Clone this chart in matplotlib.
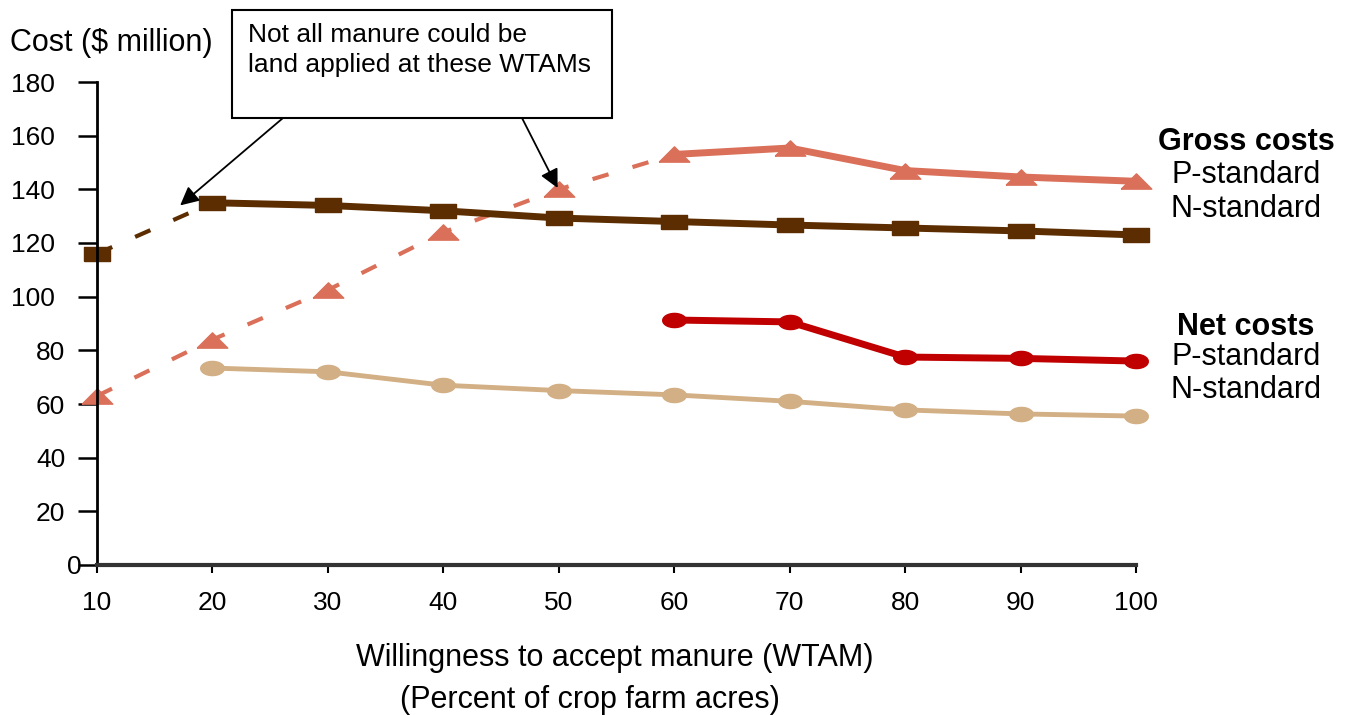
import numpy as np
import matplotlib
matplotlib.use("Agg")
import matplotlib.pyplot as plt
from matplotlib.patches import Rectangle
from matplotlib.transforms import ScaledTranslation

plt.rcParams['font.family'] = ['Liberation Sans', 'DejaVu Sans']

# willingness to accept manure (percent of crop farm acres)
wtam = [10, 20, 30, 40, 50, 60, 70, 80, 90, 100]
gross_p = [63, 84, 102.5, 124, 140, 153, 155.4, 147, 144.6, 143]
gross_n = [116, 135, 134, 132, 129.3, 128, 126.7, 125.6, 124.5, 123]
net_p_x = [60, 70, 80, 90, 100]
net_p = [91.3, 90.6, 77.5, 77, 76]
net_n_x = [20, 30, 40, 50, 60, 70, 80, 90, 100]
net_n = [73.4, 72, 67, 65, 63.4, 61, 57.8, 56.3, 55.5]

c_gp = '#DA7059'
c_gn = '#5C2D00'
c_np = '#C00000'
c_nn = '#D2AF84'

# flattened marker shapes like in the original
tri = [(-1, -0.5), (1, -0.5), (0, 0.5), (-1, -0.5)]
sq = [(-1, -0.55), (1, -0.55), (1, 0.55), (-1, 0.55), (-1, -0.55)]
t = np.linspace(0, 2 * np.pi, 40)
ell = list(zip(np.cos(t), 0.6 * np.sin(t)))

W, H = 1351, 715
fig = plt.figure(figsize=(W / 100, H / 100), dpi=100)
ax = fig.add_axes([97 / W, 1 - 565 / H, (1136 - 97) / W, (565 - 82) / H])

# dashed parts: WTAMs where not all manure could be land applied
ax.plot(wtam[:6], gross_p[:6], color=c_gp, lw=3, dashes=(4, 6), clip_on=False)
ax.plot(wtam[5:], gross_p[5:], color=c_gp, lw=5, clip_on=False)
ax.plot(wtam, gross_p, ls='none', marker=tri, ms=22, color=c_gp, clip_on=False)

ax.plot(wtam[:2], gross_n[:2], color=c_gn, lw=3, dashes=(4, 6), clip_on=False)
ax.plot(wtam[1:], gross_n[1:], color=c_gn, lw=5, clip_on=False)
ax.plot(wtam, gross_n, ls='none', marker=sq, ms=19, color=c_gn, clip_on=False)

ax.plot(net_p_x, net_p, color=c_np, lw=5, marker=ell, ms=17, clip_on=False)
ax.plot(net_n_x, net_n, color=c_nn, lw=3.5, marker=ell, ms=17, clip_on=False)

ax.set_xlim(10, 100)
ax.set_ylim(0, 180)
ax.set_xticks(wtam)
ax.set_yticks(range(0, 181, 20))
for s in ['top', 'right']:
    ax.spines[s].set_visible(False)
ax.spines['left'].set_linewidth(2)
ax.spines['bottom'].set_linewidth(3)
ax.spines['bottom'].set_color('#333333')
ax.tick_params(axis='y', direction='out', length=14, width=1.8, pad=16, labelsize=19)
ax.tick_params(axis='x', direction='out', length=6, width=1.5, pad=13, labelsize=19)

# y labels in the original are not right-aligned: shorter numbers sit further right
for lbl in ax.get_yticklabels():
    n = len(lbl.get_text())
    dx = {3: 0, 2: 10, 1: 26}.get(n, 0) / 100
    lbl.set_transform(lbl.get_transform() + ScaledTranslation(dx, 0, fig.dpi_scale_trans))

fig.text(10 / W, 1 - 43 / H, 'Cost ($ million)', fontsize=22, va='center', ha='left')
fig.text(615 / W, 1 - 658 / H, 'Willingness to accept manure (WTAM)', fontsize=22,
         ha='center', va='center')
fig.text(590 / W, 1 - 700 / H, '(Percent of crop farm acres)', fontsize=22,
         ha='center', va='center')

# labels at right
xr = 1246 / W
fig.text(xr, 1 - 142 / H, 'Gross costs', fontsize=22, weight='bold', ha='center', va='center')
fig.text(xr, 1 - 175 / H, 'P-standard', fontsize=22, ha='center', va='center')
fig.text(xr, 1 - 209 / H, 'N-standard', fontsize=22, ha='center', va='center')
fig.text(xr, 1 - 327 / H, 'Net costs', fontsize=22, weight='bold', ha='center', va='center')
fig.text(xr, 1 - 357 / H, 'P-standard', fontsize=22, ha='center', va='center')
fig.text(xr, 1 - 390 / H, 'N-standard', fontsize=22, ha='center', va='center')

# note box with arrows
fig.patches.append(Rectangle((232 / W, 1 - 118 / H), 380 / W, 108 / H, transform=fig.transFigure,
                             fill=False, ec='black', lw=1.5))
fig.text(248 / W, 1 - 35 / H, 'Not all manure could be', fontsize=19, ha='left', va='center')
fig.text(248 / W, 1 - 65 / H, 'land applied at these WTAMs', fontsize=19, ha='left', va='center')
arrow = dict(arrowstyle='-|>', mutation_scale=28, lw=1.3, color='black', shrinkA=0, shrinkB=0)
ax.annotate('', xy=(17.2, 134), xycoords='data', xytext=(283, H - 118),
            textcoords='figure pixels', arrowprops=arrow, annotation_clip=False)
ax.annotate('', xy=(49.9, 140.5), xycoords='data', xytext=(522, H - 118),
            textcoords='figure pixels', arrowprops=arrow, annotation_clip=False)

fig.savefig('out.png', dpi=100)
